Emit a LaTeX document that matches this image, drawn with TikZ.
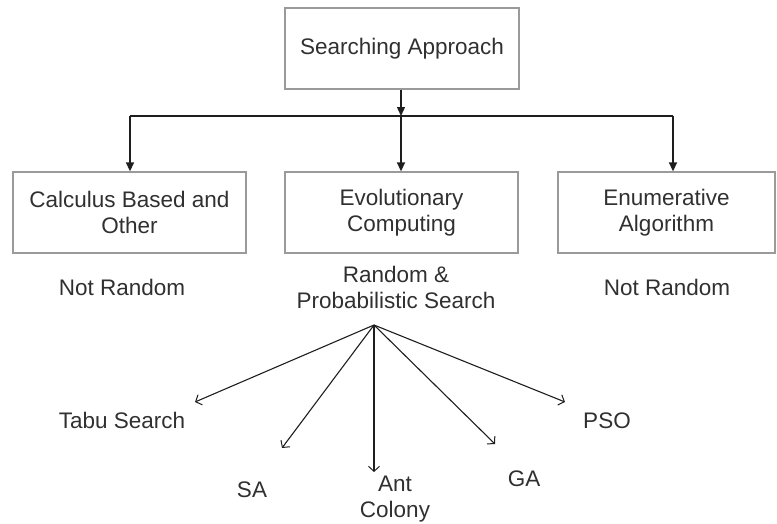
\documentclass[tikz,border=0pt]{standalone}
\usepackage{fontspec}
\setmainfont{Liberation Sans}
\usetikzlibrary{arrows.meta}
\definecolor{boxline}{HTML}{9A9A9A}
\definecolor{ink}{HTML}{303030}
\definecolor{wire}{HTML}{1E1E1E}
\tikzset{
  every node/.style={font=\fontsize{22.5}{26}\selectfont, text=ink, align=center, inner sep=0pt},
  box/.style={draw=boxline, line width=1.3pt, rectangle, minimum height=81pt},
  label/.style={},
  tree/.style={draw=wire, line width=1.4pt, -{Triangle[length=9pt,width=8pt]}},
  bar/.style={draw=wire, line width=1.4pt},
  fan/.style={draw=wire, line width=1.1pt, -{Straight Barb[length=5pt,width=11pt,line width=1pt]}}
}
\begin{document}
\begin{tikzpicture}[x=1pt, y=-1pt]
\useasboundingbox (0,0) rectangle (777,523);

% boxes
\node[box, minimum width=234pt] (top) at (402,48.5) {Searching Approach};
\node[box, minimum width=233pt] (calc) at (129.5,212.5) {Calculus Based and\\Other};
\node[box, minimum width=233pt] (evo) at (401.5,212.5) {Evolutionary\\Computing};
\node[box, minimum width=217pt] (enum) at (666.5,212.5) {Enumerative\\Algorithm};

% captions under the boxes (base anchor sits on the last line)
\node[label, anchor=base] (nr1) at (122,295) {Not Random};
\node[label, anchor=base] (rps) at (396,308) {Random \&\\Probabilistic Search};
\node[label, anchor=base] (nr2) at (667,295) {Not Random};

% branching from the root
\coordinate (jl) at (130,116);
\coordinate (jm) at (401,116);
\coordinate (jr) at (673,116);
\draw[bar] (jl) -- (jr);
\draw[tree] (top.south -| jm) -- (jm);
\draw[tree] (jl) -- (jl |- calc.north);
\draw[tree] (jm) -- (jm |- evo.north);
\draw[tree] (jr) -- (jr |- enum.north);

% search methods
\node[label, anchor=base] (tabu) at (122,428) {Tabu Search};
\node[label, anchor=base] (sa) at (252,497) {SA};
\node[label, anchor=base] (ant) at (395,517) {Ant\\Colony};
\node[label, anchor=base] (ga) at (524,486) {GA};
\node[label, anchor=base] (pso) at (607,428) {PSO};

\coordinate (apex) at (374,325);
\coordinate (ttabu) at (195,402);
\coordinate (tsa) at (282,448);
\coordinate (tant) at (374,472);
\coordinate (tga) at (495,444);
\coordinate (tpso) at (565,402);
\draw[fan] (apex) -- (ttabu);
\draw[fan] (apex) -- (tsa);
\draw[fan] (apex) -- (tant);
\draw[fan] (apex) -- (tga);
\draw[fan] (apex) -- (tpso);
\end{tikzpicture}
\end{document}
